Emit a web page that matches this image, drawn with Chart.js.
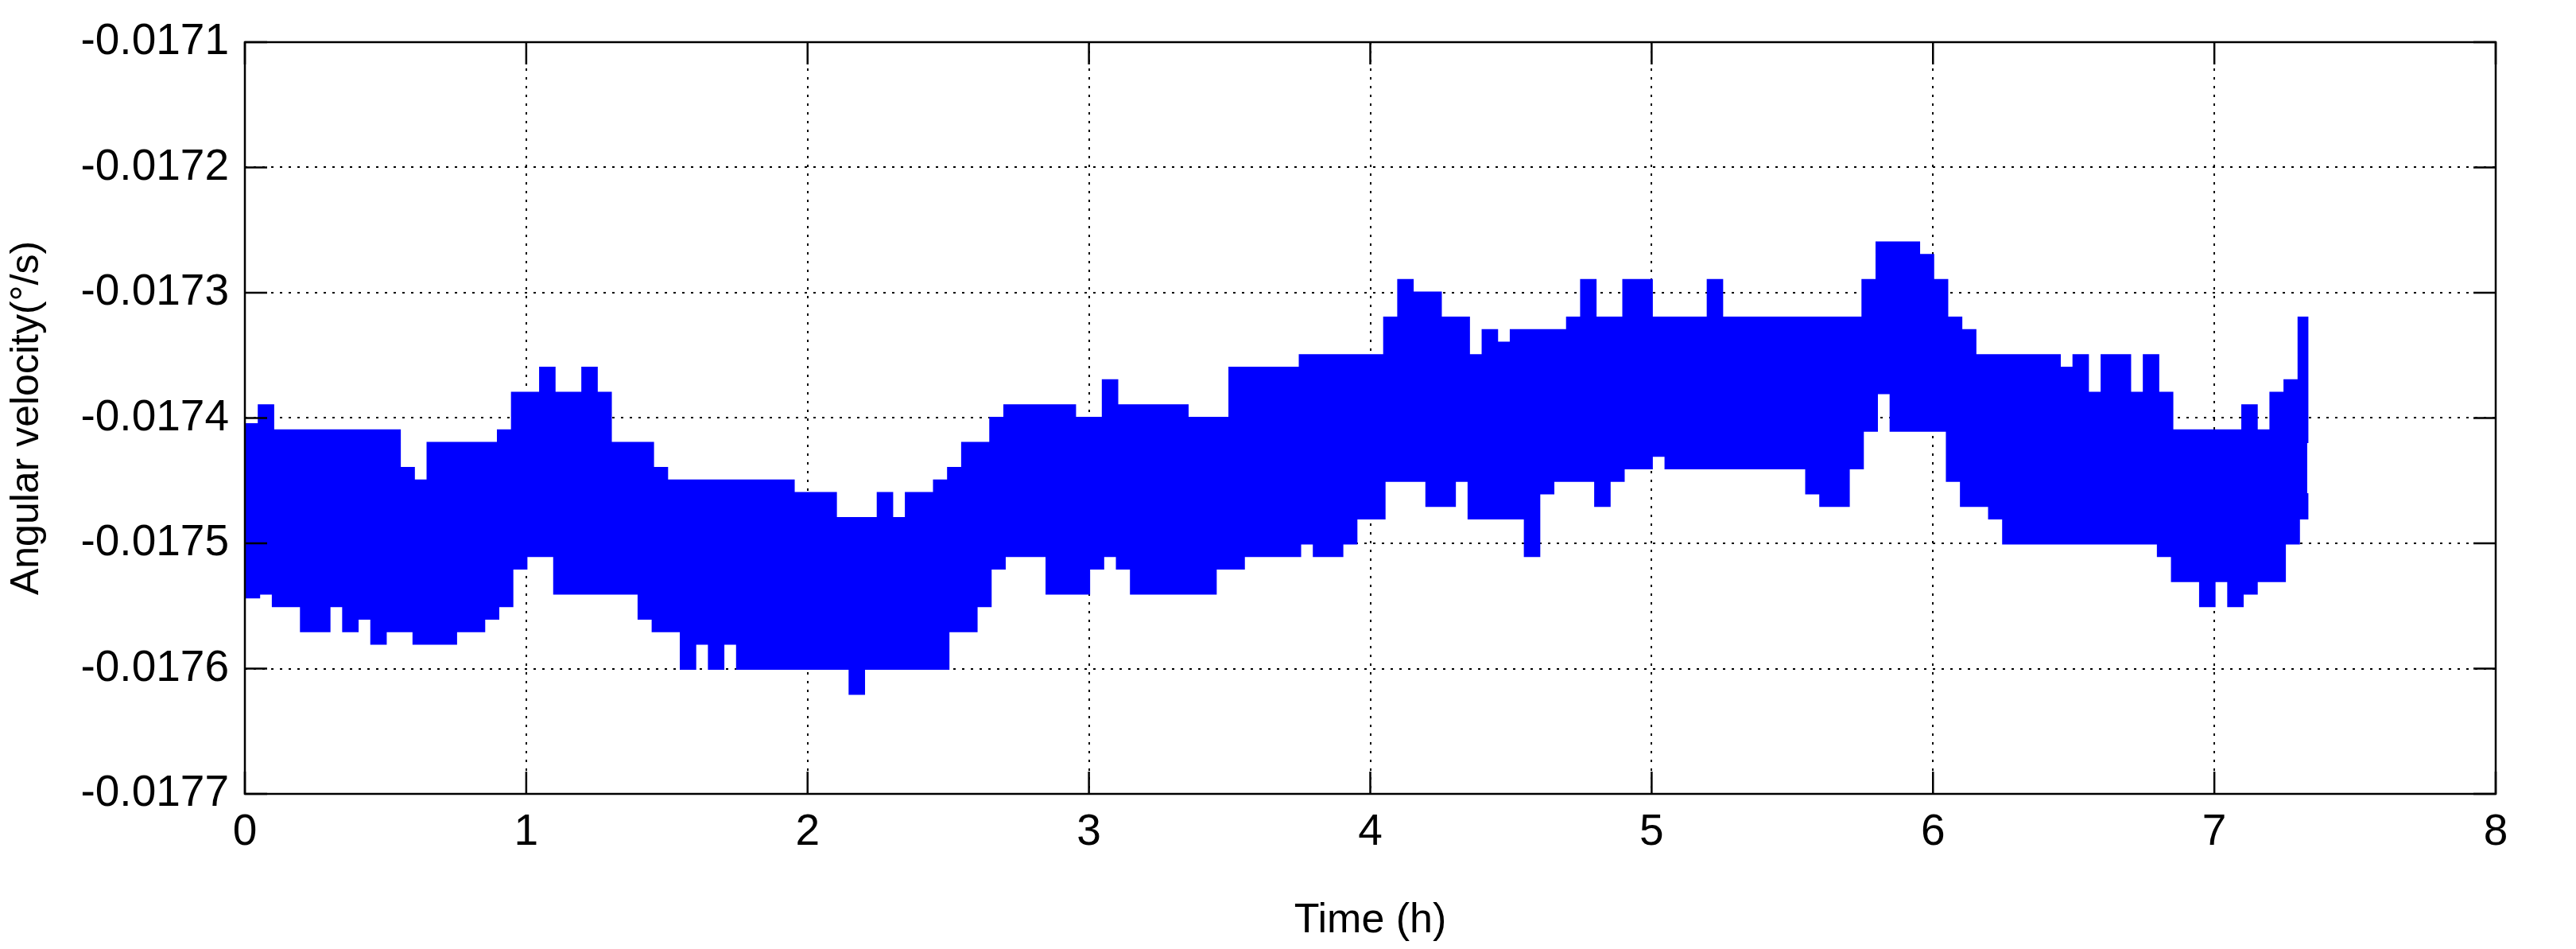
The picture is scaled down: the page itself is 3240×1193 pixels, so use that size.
<!DOCTYPE html>
<html><head><meta charset="utf-8">
<script src="https://cdn.jsdelivr.net/npm/chart.js@4"></script>
<style>html,body{margin:0;padding:0;background:#fff}#c{display:block}</style>
</head><body>
<div style="width:3240px;height:1193px"><canvas id="c"></canvas></div>
<script>
const times = [0,0.05,0.1,0.15,0.2,0.25,0.3,0.35,0.4,0.45,0.5,0.55,0.6,0.65,0.7,0.75,0.8,0.85,0.9,0.95,1,1.05,1.1,1.15,1.2,1.25,1.3,1.35,1.4,1.45,1.5,1.55,1.6,1.65,1.7,1.75,1.8,1.85,1.9,1.95,2,2.05,2.1,2.15,2.2,2.25,2.3,2.35,2.4,2.45,2.5,2.55,2.6,2.65,2.7,2.75,2.8,2.85,2.9,2.95,3,3.05,3.1,3.15,3.2,3.25,3.3,3.35,3.4,3.45,3.5,3.55,3.6,3.65,3.7,3.75,3.8,3.85,3.9,3.95,4,4.05,4.1,4.15,4.2,4.25,4.3,4.35,4.4,4.45,4.5,4.55,4.6,4.65,4.7,4.75,4.8,4.85,4.9,4.95,5,5.05,5.1,5.15,5.2,5.25,5.3,5.35,5.4,5.45,5.5,5.55,5.6,5.65,5.7,5.75,5.8,5.85,5.9,5.95,6,6.05,6.1,6.15,6.2,6.25,6.3,6.35,6.4,6.45,6.5,6.55,6.6,6.65,6.7,6.75,6.8,6.85,6.9,6.95,7,7.05,7.1,7.15,7.2,7.25,7.3,7.33];
const upper = [-0.017405,-0.01739,-0.01741,-0.01741,-0.01741,-0.01741,-0.01741,-0.01741,-0.01741,-0.01741,-0.01741,-0.01744,-0.01745,-0.01742,-0.01742,-0.01742,-0.01742,-0.01742,-0.01741,-0.01738,-0.01738,-0.01736,-0.01738,-0.01738,-0.01736,-0.01738,-0.01742,-0.01742,-0.01742,-0.01744,-0.01745,-0.01745,-0.01745,-0.01745,-0.01745,-0.01745,-0.01745,-0.01745,-0.01745,-0.01746,-0.01746,-0.01746,-0.01748,-0.01748,-0.01748,-0.01746,-0.01748,-0.01746,-0.01746,-0.01745,-0.01744,-0.01742,-0.01742,-0.0174,-0.01739,-0.01739,-0.01739,-0.01739,-0.01739,-0.0174,-0.0174,-0.01737,-0.01739,-0.01739,-0.01739,-0.01739,-0.01739,-0.0174,-0.0174,-0.0174,-0.01736,-0.01736,-0.01736,-0.01736,-0.01736,-0.01735,-0.01735,-0.01735,-0.01735,-0.01735,-0.01735,-0.01732,-0.01729,-0.0173,-0.0173,-0.01732,-0.01732,-0.01735,-0.01733,-0.01734,-0.01733,-0.01733,-0.01733,-0.01733,-0.01732,-0.01729,-0.01732,-0.01732,-0.01729,-0.01729,-0.01732,-0.01732,-0.01732,-0.01732,-0.01729,-0.01732,-0.01732,-0.01732,-0.01732,-0.01732,-0.01732,-0.01732,-0.01732,-0.01732,-0.01732,-0.01729,-0.01726,-0.01726,-0.01726,-0.01727,-0.01729,-0.01732,-0.01733,-0.01735,-0.01735,-0.01735,-0.01735,-0.01735,-0.01735,-0.01736,-0.01735,-0.01738,-0.01735,-0.01735,-0.01738,-0.01735,-0.01738,-0.01741,-0.01741,-0.01741,-0.01741,-0.01741,-0.01739,-0.01741,-0.01738,-0.01737,-0.01732,-0.01742];
const lower = [-0.017543,-0.01754,-0.01755,-0.01755,-0.01757,-0.01757,-0.01755,-0.01757,-0.01756,-0.01758,-0.01757,-0.01757,-0.01758,-0.01758,-0.01758,-0.01757,-0.01757,-0.01756,-0.01755,-0.01752,-0.01751,-0.01751,-0.01754,-0.01754,-0.01754,-0.01754,-0.01754,-0.01754,-0.01756,-0.01757,-0.01757,-0.0176,-0.01758,-0.0176,-0.01758,-0.0176,-0.0176,-0.0176,-0.0176,-0.0176,-0.0176,-0.0176,-0.0176,-0.01762,-0.0176,-0.0176,-0.0176,-0.0176,-0.0176,-0.0176,-0.01757,-0.01757,-0.01755,-0.01752,-0.01751,-0.01751,-0.01751,-0.01754,-0.01754,-0.01754,-0.01752,-0.01751,-0.01752,-0.01754,-0.01754,-0.01754,-0.01754,-0.01754,-0.01754,-0.01752,-0.01752,-0.01751,-0.01751,-0.01751,-0.01751,-0.0175,-0.01751,-0.01751,-0.0175,-0.01748,-0.01748,-0.01745,-0.01745,-0.01745,-0.01747,-0.01747,-0.01745,-0.01748,-0.01748,-0.01748,-0.01748,-0.01751,-0.01746,-0.01745,-0.01745,-0.01745,-0.01747,-0.01745,-0.01744,-0.01744,-0.01743,-0.01744,-0.01744,-0.01744,-0.01744,-0.01744,-0.01744,-0.01744,-0.01744,-0.01744,-0.01744,-0.01746,-0.01747,-0.01747,-0.01744,-0.01741,-0.01738,-0.01741,-0.01741,-0.01741,-0.01741,-0.01745,-0.01747,-0.01747,-0.01748,-0.0175,-0.0175,-0.0175,-0.0175,-0.0175,-0.0175,-0.0175,-0.0175,-0.0175,-0.0175,-0.0175,-0.01751,-0.01753,-0.01753,-0.01755,-0.01753,-0.01755,-0.01754,-0.01753,-0.01753,-0.0175,-0.01748,-0.01746];
const yTickLabels = ['-0.0177','-0.0176','-0.0175','-0.0174','-0.0173','-0.0172','-0.0171'];
const xTickLabels = ['0','1','2','3','4','5','6','7','8'];

const FONT = "'Liberation Sans', Arial, sans-serif";
const frame = {
  id:'frame',
  afterDraw(c){
    const {ctx, chartArea:a, scales:{x,y}} = c;
    ctx.save();
    ctx.strokeStyle='#000'; ctx.lineWidth=2.5;
    ctx.strokeRect(a.left,a.top,a.right-a.left,a.bottom-a.top);
    ctx.beginPath();
    for(let v=0; v<=8; v++){const px=x.getPixelForValue(v);ctx.moveTo(px,a.bottom);ctx.lineTo(px,a.bottom-28);ctx.moveTo(px,a.top);ctx.lineTo(px,a.top+28);}
    for(let i=0;i<=6;i++){const py=y.getPixelForValue(-0.0177+i*0.0001);ctx.moveTo(a.left,py);ctx.lineTo(a.left+28,py);ctx.moveTo(a.right,py);ctx.lineTo(a.right-28,py);}
    ctx.stroke();
    ctx.restore();
  }
};
new Chart(document.getElementById('c'),{
  type:'line',
  data:{datasets:[
    {data:times.map((t,i)=>({x:t,y:upper[i]})),borderColor:'#0000FF',borderWidth:3,pointRadius:0,fill:false,stepped:true},
    {data:times.map((t,i)=>({x:t,y:lower[i]})),borderColor:'#0000FF',borderWidth:3,pointRadius:0,fill:'-1',backgroundColor:'#0000FF',stepped:true}
  ]},
  options:{
    responsive:true,maintainAspectRatio:false,animation:false,
    layout:{padding:{left:0,right:101,top:51,bottom:0}},
    plugins:{legend:{display:false},tooltip:{enabled:false}},
    scales:{
      x:{type:'linear',min:0,max:8,
        afterFit(s){s.height=195;},
        ticks:{stepSize:1,color:'#000',font:{family:FONT,size:55},padding:16,callback:(v)=>xTickLabels[v]},
        grid:{color:'#000',lineWidth:2,drawTicks:false},
        border:{display:false,dash:[3,8]},
        title:{display:true,text:'Time (h)',color:'#000',font:{family:FONT,size:52},padding:{top:16}}},
      y:{min:-0.0177,max:-0.0171,
        afterFit(s){s.width=308;},
        ticks:{stepSize:0.0001,color:'#000',font:{family:FONT,size:55},padding:20,
          callback:(v)=>yTickLabels[Math.round((v+0.0177)/0.0001)]},
        grid:{color:'#000',lineWidth:2,drawTicks:false},
        border:{display:false,dash:[3,8]},
        title:{display:true,text:'Angular velocity(°/s)',color:'#000',font:{family:FONT,size:50},padding:{bottom:6}}}
    }
  },
  plugins:[frame]
});
</script></body></html>
